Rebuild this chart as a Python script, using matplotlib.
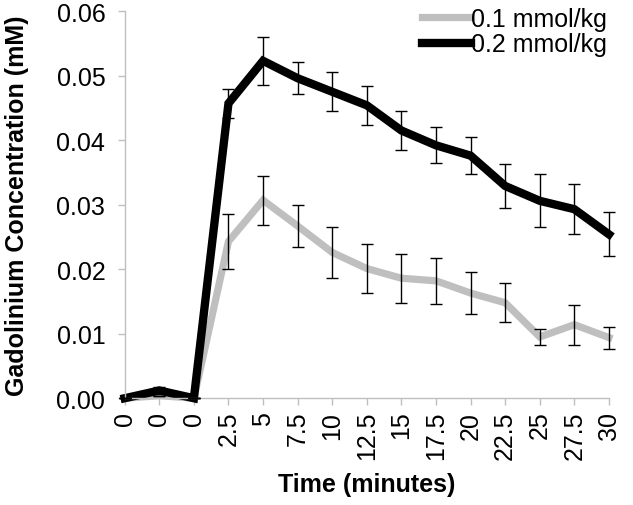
import numpy as np
import matplotlib
matplotlib.use("Agg")
import matplotlib.pyplot as plt

plt.rcParams['font.family'] = ['Liberation Sans', 'DejaVu Sans']

# time categories (Excel-style category axis)
time_labels = ["0", "0", "0", "2.5", "5", "7.5", "10", "12.5", "15",
               "17.5", "20", "22.5", "25", "27.5", "30"]

# 0.1 mmol/kg
low_mean = [0.0, 0.0004, 0.0, 0.0243, 0.0307, 0.0267, 0.0226, 0.0201, 0.0186,
            0.0182, 0.0163, 0.0148, 0.0095, 0.0114, 0.0094]
low_err = [0.0, 0.0, 0.0, 0.0042, 0.0038, 0.0033, 0.0040, 0.0038, 0.0038,
           0.0036, 0.0033, 0.0030, 0.0012, 0.0031, 0.0017]

# 0.2 mmol/kg
high_mean = [0.0, 0.0012, 0.0, 0.0457, 0.0523, 0.0496, 0.0475, 0.0454, 0.0415,
             0.0392, 0.0376, 0.0329, 0.0306, 0.0293, 0.0254]
high_err = [0.0, 0.0005, 0.0, 0.0023, 0.0037, 0.0025, 0.0030, 0.0030, 0.0030,
            0.0028, 0.0029, 0.0034, 0.0041, 0.0039, 0.0034]

x = np.arange(len(time_labels))
fs = 18

fig = plt.figure(figsize=(6.33, 5.06), dpi=100)
ax = fig.add_axes([0.197, 0.211, 0.765, 0.765])

ax.plot(x, low_mean, color='#bfbfbf', lw=5.2, label='0.1 mmol/kg', zorder=2,
        solid_joinstyle='miter', clip_on=False)
ax.errorbar(x, low_mean, yerr=low_err, fmt='none', ecolor='black',
            elinewidth=1, capsize=4, capthick=1, zorder=3, clip_on=False)
ax.plot(x, high_mean, color='black', lw=6, label='0.2 mmol/kg', zorder=2,
        solid_joinstyle='miter', clip_on=False)
ax.errorbar(x, high_mean, yerr=high_err, fmt='none', ecolor='black',
            elinewidth=1, capsize=4, capthick=1, zorder=3, clip_on=False)

ax.set_xlim(0, len(time_labels) - 1)
ax.set_ylim(0, 0.06)
ax.set_yticks(np.arange(0, 0.061, 0.01))
ax.set_yticklabels(["%.2f" % v for v in np.arange(0, 0.061, 0.01)])
ax.set_xticks(x)
ax.set_xticklabels(time_labels, rotation=90)

for s in ['top', 'right']:
    ax.spines[s].set_visible(False)
for s in ['left', 'bottom']:
    ax.spines[s].set_color('#bfbfbf')
    ax.spines[s].set_linewidth(1)
ax.tick_params(axis='both', colors='#bfbfbf', labelcolor='black',
               labelsize=fs, length=5, width=1, direction='out')
ax.tick_params(axis='y', pad=9)
ax.tick_params(axis='x', pad=4)

ax.set_xlabel("Time (minutes)", fontsize=fs, fontweight='bold', labelpad=9)
ax.set_ylabel("Gadolinium Concentration (mM)", fontsize=fs,
              fontweight='bold', labelpad=20)

ax.legend(loc='upper right', bbox_to_anchor=(607 / 633, 1 - 8 / 506),
          bbox_transform=fig.transFigure, frameon=False,
          fontsize=fs, handlelength=1.95, handletextpad=0.0,
          labelspacing=0.05, borderaxespad=0.0, borderpad=0.0)

fig.savefig("out.png", dpi=100)
